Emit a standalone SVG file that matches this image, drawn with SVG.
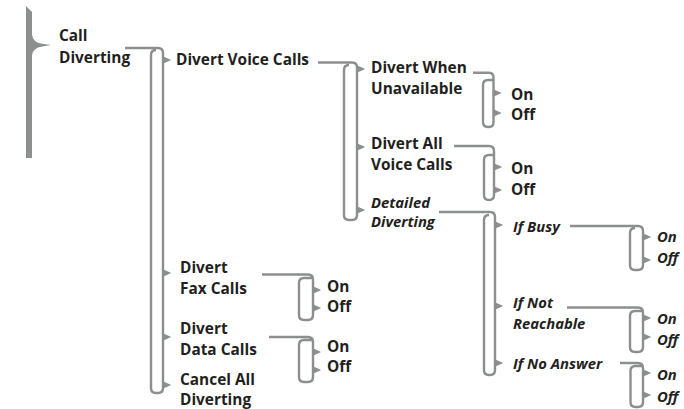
<svg xmlns="http://www.w3.org/2000/svg" width="684" height="409" viewBox="0 0 684 409">
<style>
.t{font-family:"Open Sans","Liberation Sans",sans-serif;font-weight:700;font-size:15.4px;fill:#231f20}
.i{font-style:italic;font-size:14.8px}
.c{fill:none;stroke:#8c8e90;stroke-width:2.4;stroke-linejoin:round}
.k{fill:#8c8e90;stroke:#8c8e90;stroke-width:1.2;stroke-linejoin:round}
</style>
<rect width="684" height="409" fill="#fff"/>
<g id="connectors">
<path d="M26,6 L32,12 L32,35 Q33,42.5 42,43.8 L51,45 L42,46.5 Q33,48 32,55 L32,158 L26,158 Z" fill="#8c8e90"/>
<path class="c" d="M125,48 H158 Q163,48 163,53 V388 Q163,393 158,393 H156 Q151,393 151,388 V55 Q151,50 156,50"/>
<path class="c" d="M318,62.5 H352 Q357,62.5 357,67.5 V215 Q357,220 352,220 H349 Q344,220 344,215 V70 Q344,65 349,65"/>
<path class="c" d="M473,72.7 H489 Q493.5,72.7 493.5,77.5 V122 Q493.5,127 489,127 H488 Q483,127 483,122 V85 Q483,80 488,80 H493.5"/>
<path class="c" d="M454,146 H489 Q494,146 494,151 V195 Q494,200 489,200 H489 Q484,200 484,195 V160 Q484,155 489,155 H494"/>
<path class="c" d="M439,212 H490 Q495,212 495,217 V370 Q495,375 490,375 H489 Q484,375 484,370 V220 Q484,215 489,215"/>
<path class="c" d="M570,226 H638 Q643,226 643,231 V265 Q643,270 638,270 H635 Q630,270 630,265 V233 Q630,228 635,228"/>
<path class="c" d="M567,307.5 H638 Q643,307.5 643,312.5 V347 Q643,352 638,352 H635 Q630,352 630,347 V316 Q630,311 635,311 H643"/>
<path class="c" d="M620,363 H638 Q643,363 643,368 V402 Q643,407 638,407 H635.5 Q630.5,407 630.5,402 V371 Q630.5,366 635.5,366 H643"/>
<path class="c" d="M262,274.5 H308 Q313,274.5 313,279.5 V315 Q313,320 308,320 H304 Q299,320 299,315 V283 Q299,278 304,278 H313"/>
<path class="c" d="M269,337 H308 Q313,337 313,342 V377 Q313,382 308,382 H304 Q299,382 299,377 V345 Q299,340 304,340 H313"/>
<g class="k">
<path d="M163,57 L170,60 L163,63Z"/>
<path d="M163,270 L170,273 L163,276Z"/>
<path d="M163,334 L170,337 L163,340Z"/>
<path d="M163,382 L170,385 L163,388Z"/>
<path d="M357,66 L364,69 L357,72Z"/>
<path d="M357,144 L364,147 L357,150Z"/>
<path d="M357,207 L364,210 L357,213Z"/>
<path d="M493.5,90 L500.5,93 L493.5,96Z"/>
<path d="M493.5,110 L500.5,113 L493.5,116Z"/>
<path d="M494,164 L501,167 L494,170Z"/>
<path d="M494,187 L501,190 L494,193Z"/>
<path d="M495,222 L502,225 L495,228Z"/>
<path d="M495,303 L502,306 L495,309Z"/>
<path d="M495,360 L502,363 L495,366Z"/>
<path d="M643,234 L650,237 L643,240Z"/>
<path d="M643,257 L650,260 L643,263Z"/>
<path d="M643,315 L650,318 L643,321Z"/>
<path d="M643,334 L650,337 L643,340Z"/>
<path d="M643,370 L650,373 L643,376Z"/>
<path d="M643,392 L650,395 L643,398Z"/>
<path d="M313,287 L320,290 L313,293Z"/>
<path d="M313,305 L320,308 L313,311Z"/>
<path d="M313,349 L320,352 L313,355Z"/>
<path d="M313,367 L320,370 L313,373Z"/>
</g>
</g>
<g id="call-diverting"><text class="t" x="59" y="41">Call</text><text class="t" x="59" y="63">Diverting</text></g>
<g id="divert-voice-calls"><text class="t" x="176" y="65">Divert Voice Calls</text></g>
<g id="divert-fax-calls"><text class="t" x="180" y="273">Divert</text><text class="t" x="180" y="294">Fax Calls</text></g>
<g id="fax-on"><text class="t" x="327" y="292">On</text></g>
<g id="fax-off"><text class="t" x="327" y="312">Off</text></g>
<g id="divert-data-calls"><text class="t" x="180" y="334">Divert</text><text class="t" x="180" y="355">Data Calls</text></g>
<g id="data-on"><text class="t" x="327" y="352">On</text></g>
<g id="data-off"><text class="t" x="327" y="372">Off</text></g>
<g id="cancel-all"><text class="t" x="180" y="385">Cancel All</text><text class="t" x="180" y="404.5">Diverting</text></g>
<g id="divert-when-unavailable"><text class="t" x="371" y="73">Divert When</text><text class="t" x="371" y="93.5">Unavailable</text></g>
<g id="unavail-on"><text class="t" x="511" y="99.5">On</text></g>
<g id="unavail-off"><text class="t" x="511" y="120">Off</text></g>
<g id="divert-all-voice"><text class="t" x="371" y="148.5">Divert All</text><text class="t" x="371" y="170">Voice Calls</text></g>
<g id="all-on"><text class="t" x="511" y="173.5">On</text></g>
<g id="all-off"><text class="t" x="511" y="195">Off</text></g>
<g id="detailed-diverting"><text class="t i" x="371" y="208">Detailed</text><text class="t i" x="371" y="226.5">Diverting</text></g>
<g id="if-busy"><text class="t i" x="513" y="231.5">If Busy</text></g>
<g id="busy-on"><text class="t i" x="657" y="241.5">On</text></g>
<g id="busy-off"><text class="t i" x="657" y="263">Off</text></g>
<g id="if-not-reachable"><text class="t i" x="513" y="308.3">If Not</text><text class="t i" x="513" y="328.5">Reachable</text></g>
<g id="notreach-on"><text class="t i" x="657" y="324">On</text></g>
<g id="notreach-off"><text class="t i" x="657" y="345">Off</text></g>
<g id="if-no-answer"><text class="t i" x="513" y="368.5">If No Answer</text></g>
<g id="noanswer-on"><text class="t i" x="657" y="380">On</text></g>
<g id="noanswer-off"><text class="t i" x="657" y="401.5">Off</text></g>
</svg>
